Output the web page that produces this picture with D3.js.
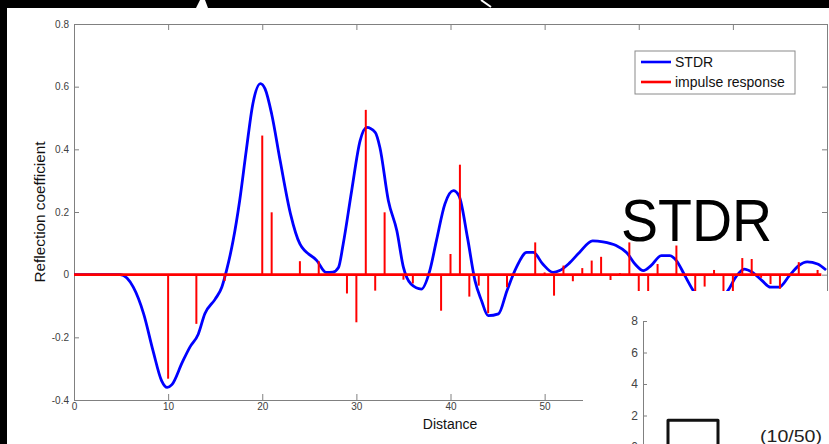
<!DOCTYPE html>
<html>
<head>
<meta charset="utf-8">
<script src="https://cdn.jsdelivr.net/npm/d3@7"></script>
<style>
  body { margin: 0; background: #fff; }
  svg { display: block; }
  text { font-family: "Liberation Sans", Arial, sans-serif; }
</style>
</head>
<body>
<script>
// STDR curve (distance, reflection coefficient)
var stdrX = [0, 4.9, 6.3, 7.4, 8.4, 9.3, 9.9, 10.4, 11.5, 12.3, 13.2, 13.9, 15.0, 15.7, 16.2, 16.9, 17.6, 18.3, 19.0, 19.8,
    20.3, 21.0, 21.9, 23.0, 24.0, 25.8, 26.8, 27.5, 28.1, 28.6, 29.5, 30.4, 31.1, 32.0, 32.5, 33.4, 34.3, 35.0, 35.8, 36.9,
    37.8, 38.5, 39.4, 40.3, 40.9, 41.8, 42.6, 43.3, 44.0, 45.1, 46.0, 47.0, 48.1, 48.8, 49.8, 50.9, 51.6, 52.6, 53.7, 55.1,
    56.2, 57.6, 58.7, 59.6, 60.5, 61.3, 62.4, 63.3, 64.0, 64.9, 65.8, 67.6, 69.5, 70.3, 71.2, 72.1, 73.1, 74.0, 74.9, 76.0,
    77.0, 77.9, 79.0, 79.9];
var stdrY = [0, 0, -0.04, -0.125, -0.243, -0.338, -0.36, -0.351, -0.28, -0.232, -0.19, -0.125, -0.078, -0.04, 0.013, 0.108, 0.236, 0.396, 0.545, 0.61,
    0.593, 0.513, 0.364, 0.194, 0.098, 0.045, 0.007, 0.008, 0.023, 0.098, 0.268, 0.428, 0.47, 0.454, 0.406, 0.236, 0.14, 0.023, -0.03, -0.046,
    0.013, 0.108, 0.225, 0.268, 0.252, 0.119, -0.019, -0.083, -0.131, -0.125, -0.051, 0.023, 0.071, 0.071, 0.034, 0.007, 0.013, 0.036, 0.071, 0.108,
    0.105, 0.093, 0.071, 0.034, 0.013, 0.029, 0.061, 0.061, 0.045, -0.003, -0.051, -0.1, -0.05, -0.008, 0.018, 0.007, -0.019, -0.04, -0.04, -0.003,
    0.029, 0.041, 0.034, 0.015];

// impulse response stems
var stemX = [10, 13, 16, 20, 21, 24, 26, 29, 30, 31, 32, 33, 35, 36, 39, 40, 41, 42, 43, 44, 46, 49, 50, 51, 52, 53, 54, 55, 56, 57,
    58, 59, 60, 61, 62, 64, 66, 67, 68, 69, 70, 71, 72, 73, 74, 75, 77, 79];
var stemY = [-0.332, -0.157, -0.02, 0.444, 0.199, 0.043, 0.043, -0.06, -0.152, 0.526, -0.051, 0.199, -0.016, -0.028, -0.115, 0.066, 0.351, -0.07, -0.035, -0.123,
    -0.04, 0.103, 0.007, -0.067, 0.029, -0.021, 0.021, 0.045, 0.057, -0.017, 0.005, 0.103, -0.07, -0.06, 0.034, 0.093, -0.07, -0.038, 0.015, -0.06,
    -0.07, 0.053, 0.05, -0.01, -0.03, -0.045, 0.04, 0.015];

var xTicks = [0, 10, 20, 30, 40, 50, 60, 70, 80];
var xLabelTicks = [0, 10, 20, 30, 40, 50]; // the rest sit under the inset
var yTicks = [-0.4, -0.2, 0, 0.2, 0.4, 0.6, 0.8];

// inset
var insetTicks = [0, 2, 4, 6, 8];
var pulseX = [5, 5, 15, 15];
var pulseY = [0, 1.7, 1.7, 0];

var W = 829, H = 444;
var svg = d3.select("body").append("svg").attr("width", W).attr("height", H);

var x = d3.scaleLinear().domain([0, 80]).range([74, 827]);
var y = d3.scaleLinear().domain([-0.4, 0.8]).range([400, 24]);

svg.append("defs").append("clipPath").attr("id", "plotclip")
    .append("rect").attr("x", 74).attr("y", 24).attr("width", 753).attr("height", 376);

var axisColor = "#808080";
function styleAxis(g, showLabels) {
    g.selectAll(".domain").attr("stroke", axisColor);
    g.selectAll(".tick line").attr("stroke", axisColor);
    g.selectAll(".tick text").attr("fill", "#404040").attr("font-size", "10px")
        .attr("font-family", "Liberation Sans, Arial, sans-serif");
    if (!showLabels) g.selectAll(".tick text").remove();
}

svg.append("g").attr("transform", "translate(0,400)")
    .call(d3.axisBottom(x).tickValues(xTicks).tickSizeInner(-6).tickSizeOuter(0).tickPadding(3)
        .tickFormat(function (d) { return xLabelTicks.indexOf(d) >= 0 ? String(d) : ""; }))
    .call(styleAxis, true);
svg.append("g").attr("transform", "translate(0,24)")
    .call(d3.axisTop(x).tickValues(xTicks).tickSizeInner(-6).tickSizeOuter(0))
    .call(styleAxis, false);
svg.append("g").attr("transform", "translate(74,0)")
    .call(d3.axisLeft(y).tickValues(yTicks).tickSizeInner(-5).tickSizeOuter(0).tickPadding(5)
        .tickFormat(function (d) { return String(+d.toFixed(1)); }))
    .call(styleAxis, true);
svg.append("g").attr("transform", "translate(827,0)")
    .call(d3.axisRight(y).tickValues(yTicks).tickSizeInner(-5).tickSizeOuter(0))
    .call(styleAxis, false);

var plot = svg.append("g").attr("clip-path", "url(#plotclip)");

// blue STDR curve
var stdr = stdrX.map(function (d, i) { return [d, stdrY[i]]; });
plot.append("path")
    .datum(stdr)
    .attr("fill", "none")
    .attr("stroke", "#0000ff")
    .attr("stroke-width", 2.8)
    .attr("stroke-linejoin", "round")
    .attr("d", d3.line().x(function (d) { return x(d[0]); }).y(function (d) { return y(d[1]); })
        .curve(d3.curveMonotoneX));

// red stems + baseline
plot.selectAll("line.stem")
    .data(stemX)
    .enter().append("line")
    .attr("class", "stem")
    .attr("x1", function (d) { return x(d); })
    .attr("x2", function (d) { return x(d); })
    .attr("y1", y(0))
    .attr("y2", function (d, i) { return y(stemY[i]); })
    .attr("stroke", "#ff0000")
    .attr("stroke-width", 2);
plot.append("line")
    .attr("x1", x(0)).attr("x2", x(79.4))
    .attr("y1", y(0)).attr("y2", y(0))
    .attr("stroke", "#ff0000")
    .attr("stroke-width", 2.6);

// axis labels
svg.append("text")
    .attr("x", 450).attr("y", 429)
    .attr("text-anchor", "middle")
    .attr("font-size", "14px")
    .attr("fill", "#111")
    .text("Distance");
svg.append("text")
    .attr("transform", "translate(45,212) rotate(-90)")
    .attr("text-anchor", "middle")
    .attr("font-size", "14px")
    .attr("fill", "#111")
    .attr("textLength", 141)
    .attr("lengthAdjust", "spacingAndGlyphs")
    .text("Reflection coefficient");

// legend
var legend = svg.append("g").attr("transform", "translate(635,51)");
legend.append("rect").attr("width", 160).attr("height", 43)
    .attr("fill", "#fff").attr("stroke", "#8a8a8a").attr("stroke-width", 1);
var legendItems = [["STDR", "#0000ff"], ["impulse response", "#ff0000"]];
legend.selectAll("g.item")
    .data(legendItems)
    .enter().append("g")
    .attr("class", "item")
    .attr("transform", function (d, i) { return "translate(0," + (11 + i * 20) + ")"; })
    .each(function (d) {
        var g = d3.select(this);
        g.append("line").attr("x1", 6).attr("x2", 36).attr("stroke", d[1]).attr("stroke-width", 2.6);
        g.append("text").attr("x", 40).attr("y", 5).attr("font-size", "14px").attr("fill", "#111").text(d[0]);
    });

// top black bar and left strip (screenshot frame)
svg.append("rect").attr("x", 0).attr("y", 0).attr("width", W).attr("height", 8).attr("fill", "#000");
svg.append("rect").attr("x", 0).attr("y", 0).attr("width", 7).attr("height", H).attr("fill", "#000");
svg.append("polygon").attr("points", "196,8 200,0 205,0 208,8").attr("fill", "#fff");
svg.append("line").attr("x1", 481).attr("y1", 0).attr("x2", 491).attr("y2", 7)
    .attr("stroke", "#fff").attr("stroke-width", 2);

// big STDR caption
svg.append("text")
    .attr("x", 621).attr("y", 241)
    .attr("font-family", "Open Sans, Noto Sans, sans-serif")
    .attr("font-size", "60px")
    .attr("fill", "#000")
    .attr("textLength", 151)
    .attr("lengthAdjust", "spacingAndGlyphs")
    .text("STDR");

// inset panel
svg.append("rect").attr("x", 583).attr("y", 291).attr("width", W - 583).attr("height", H - 291).attr("fill", "#fff");
var ix = d3.scaleLinear().domain([0, 50]).range([643, 893]);
var iy = d3.scaleLinear().domain([0, 8]).range([447, 321]);
svg.append("g").attr("transform", "translate(643,0)")
    .call(d3.axisLeft(iy).tickValues(insetTicks).tickSizeInner(-4).tickSizeOuter(0).tickPadding(5))
    .call(function (g) {
        g.selectAll(".domain").attr("stroke", axisColor);
        g.selectAll(".tick line").attr("stroke", axisColor);
        g.selectAll(".tick text").attr("fill", "#444").attr("font-size", "12px");
    });
svg.append("path")
    .datum(pulseX.map(function (d, i) { return [d, pulseY[i]]; }))
    .attr("fill", "none")
    .attr("stroke", "#111")
    .attr("stroke-width", 3)
    .attr("stroke-linejoin", "round")
    .attr("d", d3.line().x(function (d) { return ix(d[0]); }).y(function (d) { return iy(d[1]); }));
svg.append("text")
    .attr("x", 760).attr("y", 442)
    .attr("font-size", "17px")
    .attr("fill", "#222")
    .attr("textLength", 62)
    .attr("lengthAdjust", "spacingAndGlyphs")
    .text("(10/50)");
</script>
</body>
</html>
